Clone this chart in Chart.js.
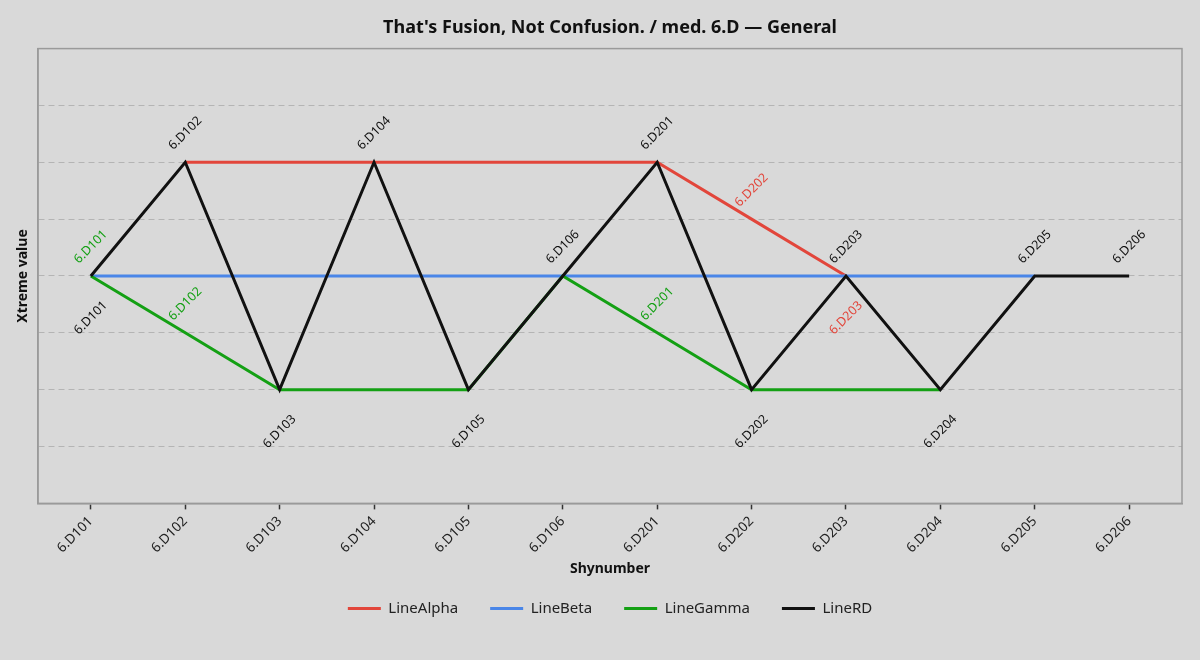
<!DOCTYPE html>
<html>
<head>
<meta charset="utf-8">
<script src="https://cdn.jsdelivr.net/npm/chart.js@4.4.1/dist/chart.umd.min.js"></script>
<style>
  html, body { margin: 0; padding: 0; background: #d9d9d9; }
  #wrap { width: 1200px; height: 660px; }
</style>
</head>
<body>
<div id="wrap"><canvas id="c"></canvas></div>
<script>
const categories = ['6.D101','6.D102','6.D103','6.D104','6.D105','6.D106','6.D201','6.D202','6.D203','6.D204','6.D205','6.D206'];
const lineAlpha = [null, 2, 2, 2, 2, 2, 2, 1, 0, null, null, null];
const lineBeta  = [0, 0, 0, 0, 0, 0, 0, 0, 0, 0, 0, null];
const lineGamma = [0, -1, -2, -2, -2, 0, -1, -2, -2, -2, null, null];
const lineRD    = [0, 2, -2, 2, -2, 0, 2, -2, 0, -2, 0, 0];
const yMin = -4, yMax = 4;

const FONT = "'Noto Sans', 'DejaVu Sans', sans-serif";

function pts(arr) { return arr.map((v, i) => ({ x: i, y: v })); }

const datasets = [
  { label: 'LineAlpha', data: pts(lineAlpha), borderColor: '#e2463b', backgroundColor: '#e2463b', order: 4,
    labelSide: [null,null,null,null,null,null,null,'a','b',null,null,null] },
  { label: 'LineBeta', data: pts(lineBeta), borderColor: '#4a86e8', backgroundColor: '#4a86e8', order: 3,
    labelSide: [] },
  { label: 'LineGamma', data: pts(lineGamma), borderColor: '#14a014', backgroundColor: '#14a014', order: 2,
    labelSide: ['a','a',null,null,null,null,'a',null,null,null,null,null] },
  { label: 'LineRD', data: pts(lineRD), borderColor: '#111111', backgroundColor: '#111111', order: 1,
    labelSide: ['b','a','b','a','b','a','a','b','a','b','a','a'] }
].map(d => Object.assign({ borderWidth: 3, pointRadius: 0, pointHoverRadius: 0, tension: 0, spanGaps: true, fill: false }, d));

const bgPlugin = {
  id: 'bg',
  beforeDraw(chart) {
    const c = chart.ctx;
    c.save(); c.fillStyle = '#d9d9d9'; c.fillRect(0, 0, chart.width, chart.height); c.restore();
  },
  afterDraw(chart) {
    const a = chart.chartArea, c = chart.ctx;
    c.save(); c.strokeStyle = '#9a9a9a'; c.lineWidth = 1.5;
    c.strokeRect(a.left, a.top, a.right - a.left, a.bottom - a.top);
    c.restore();
  }
};

const labelPlugin = {
  id: 'pointLabels',
  afterDatasetsDraw(chart) {
    const c = chart.ctx;
    const metas = chart.getSortedVisibleDatasetMetas().slice().reverse();
    metas.forEach(meta => {
      const ds = chart.data.datasets[meta.index];
      const sides = ds.labelSide || [];
      meta.data.forEach((el, i) => {
        const side = sides[i];
        if (!side || ds.data[i].y === null) return;
        const cx = el.x, cy = el.y + (side === 'a' ? -29 : 42);
        c.save();
        c.translate(cx, cy);
        c.rotate(-Math.PI / 4);
        c.font = '12.5px ' + FONT;
        c.fillStyle = ds.borderColor;
        c.textAlign = 'center';
        c.textBaseline = 'middle';
        c.fillText(categories[i], 0, 0);
        c.restore();
      });
    });
  }
};

new Chart(document.getElementById('c'), {
  type: 'line',
  data: { datasets },
  plugins: [bgPlugin, labelPlugin],
  options: {
    responsive: true,
    maintainAspectRatio: false,
    devicePixelRatio: 1,
    animation: false,
    layout: { padding: { left: 38, right: 18, top: 0, bottom: 34 } },
    plugins: {
      tooltip: { enabled: false },
      title: {
        display: true,
        text: "That's Fusion, Not Confusion. / med. 6.D \u2014 General",
        color: '#111',
        font: { family: FONT, size: 18, weight: 'bold' },
        padding: { top: 17, bottom: 10 }
      },
      legend: {
        position: 'bottom',
        labels: {
          color: '#222',
          font: { family: FONT, size: 15 },
          boxWidth: 33,
          boxHeight: 3,
          padding: 32,
          sort: (a, b) => a.datasetIndex - b.datasetIndex,
          generateLabels(chart) {
            const items = Chart.defaults.plugins.legend.labels.generateLabels(chart);
            items.forEach(it => {
              const ds = chart.data.datasets[it.datasetIndex];
              it.fillStyle = ds.borderColor; it.strokeStyle = ds.borderColor; it.lineWidth = 0;
            });
            return items;
          }
        }
      }
    },
    scales: {
      x: {
        type: 'linear',
        min: -0.56,
        max: categories.length - 1 + 0.56,
        afterBuildTicks(axis) { axis.ticks = categories.map((_, i) => ({ value: i })); },
        ticks: {
          callback: (v) => categories[v],
          color: '#222',
          font: { family: FONT, size: 13.5 },
          minRotation: 45, maxRotation: 45,
          padding: 4,
          autoSkip: false
        },
        grid: { drawOnChartArea: false, drawTicks: true, tickLength: 6, color: '#333', tickWidth: 1.5 },
        border: { display: true, color: '#9a9a9a', width: 1.5 },
        title: { display: true, text: 'Shynumber', color: '#111', font: { family: FONT, size: 14, weight: 'bold' }, padding: { top: 0, bottom: -8 } }
      },
      y: {
        min: yMin, max: yMax,
        ticks: { display: false, stepSize: 1 },
        grid: { color: '#b4b4b4', lineWidth: 1, drawTicks: false },
        border: { display: true, color: '#9a9a9a', width: 1.5, dash: [6, 4] },
        title: { display: true, text: 'Xtreme value', color: '#111', font: { family: FONT, size: 14, weight: 'bold' }, padding: { top: -23, bottom: 6 } }
      }
    }
  }
});
</script>
</body>
</html>
